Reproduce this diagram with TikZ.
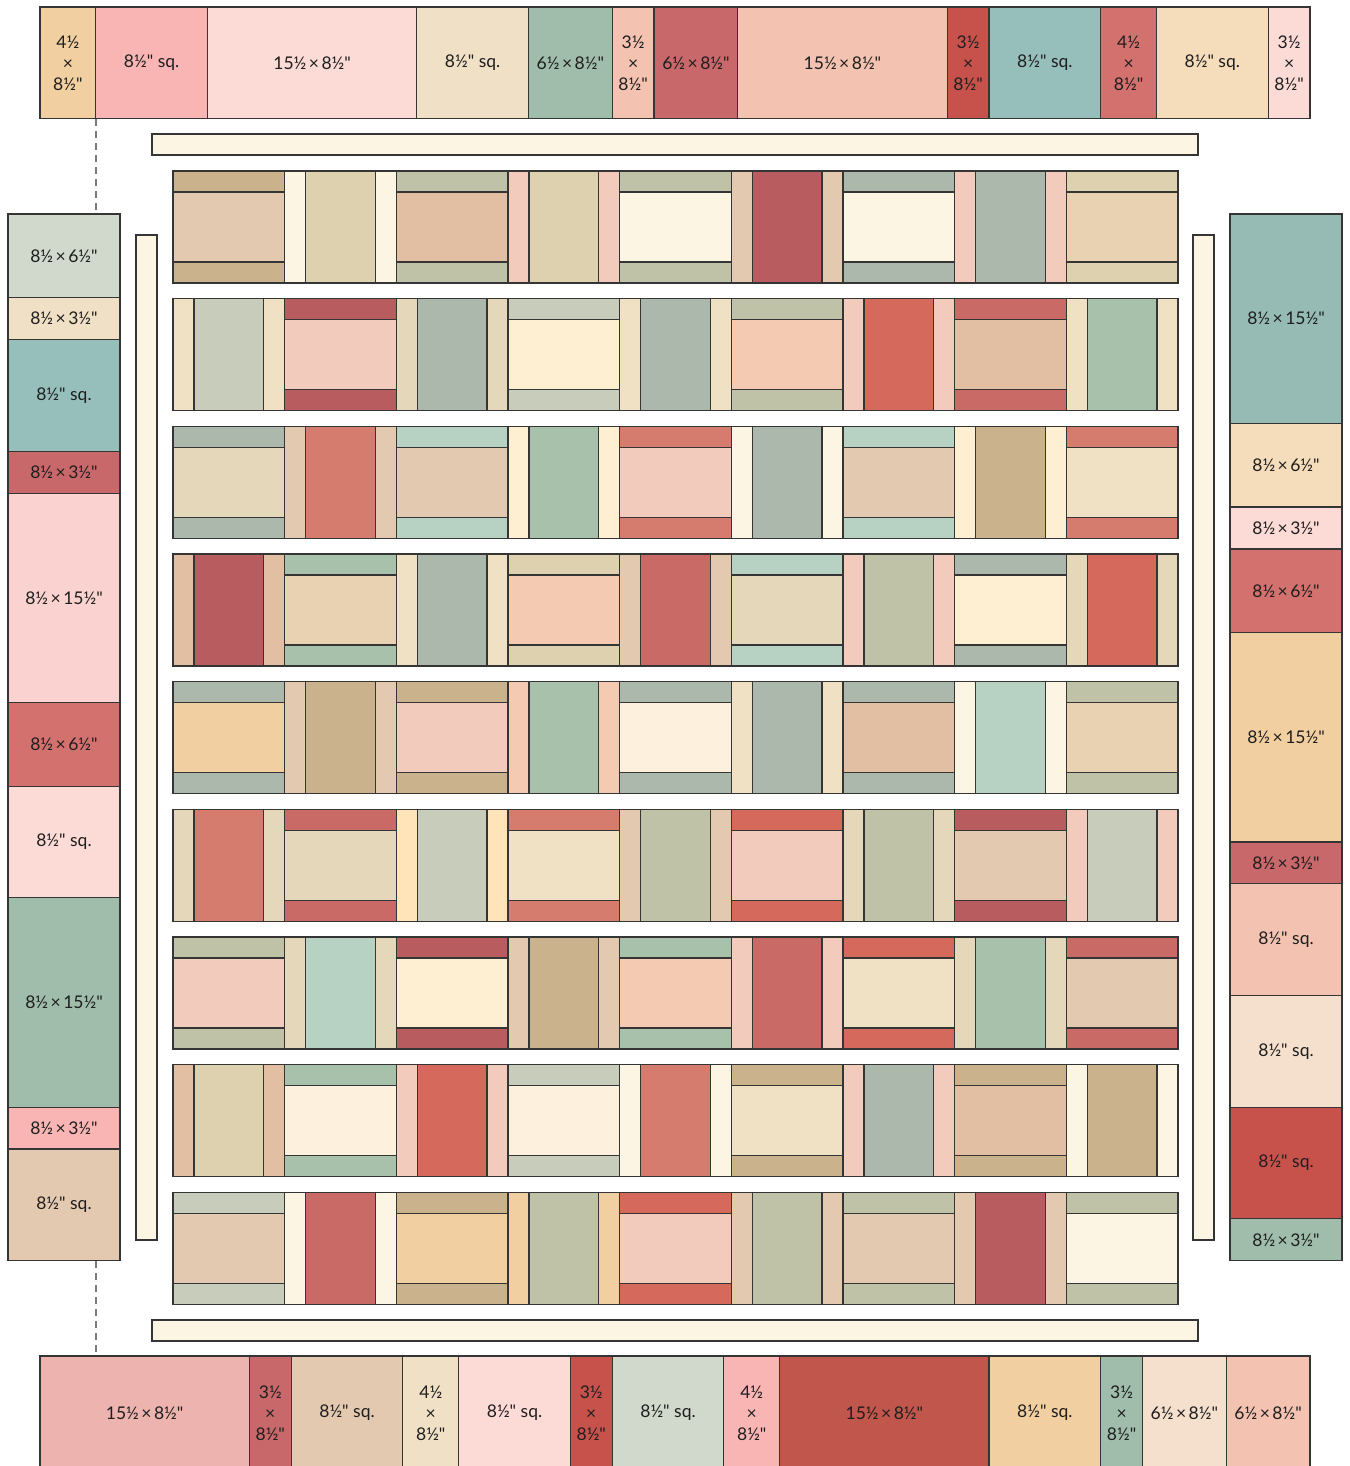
\documentclass[tikz,border=0pt]{standalone}
\usepackage{fontspec}
\setmainfont{Lato}[Ligatures=TeXOff]
% block palette
\definecolor{tan}{HTML}{C9B28C}
\definecolor{beige}{HTML}{E3C9B0}
\definecolor{khaki}{HTML}{DDD1AF}
\definecolor{cream}{HTML}{FDF5E4}
\definecolor{creamb}{HTML}{FDF0DC}
\definecolor{ivory}{HTML}{FEEFD3}
\definecolor{sage}{HTML}{BFC2A6}
\definecolor{gsage}{HTML}{ADB8AC}
\definecolor{mint}{HTML}{B7D2C2}
\definecolor{green}{HTML}{A8C1AA}
\definecolor{psage}{HTML}{C8CCBA}
\definecolor{peachl}{HTML}{F2CBBC}
\definecolor{peach}{HTML}{F4CAB3}
\definecolor{sandp}{HTML}{E2BFA3}
\definecolor{wheat}{HTML}{E8D2B1}
\definecolor{wheatl}{HTML}{E5D7B9}
\definecolor{linen}{HTML}{F0E0C4}
\definecolor{reddk}{HTML}{B85C60}
\definecolor{red}{HTML}{C96A66}
\definecolor{coral}{HTML}{D5695C}
\definecolor{salmon}{HTML}{D57C6E}
\definecolor{otan}{HTML}{F2CFA0}
\definecolor{yel}{HTML}{FEE4B8}
% border palette
\definecolor{bpink}{HTML}{F9B5B4}
\definecolor{blpink}{HTML}{FCDAD6}
\definecolor{blinen}{HTML}{F0E0C6}
\definecolor{bgreen}{HTML}{9FBDAA}
\definecolor{bpeach}{HTML}{F3C2B0}
\definecolor{bred}{HTML}{C9686A}
\definecolor{brick}{HTML}{C7524C}
\definecolor{brick2}{HTML}{C0564C}
\definecolor{bteal}{HTML}{96BFBC}
\definecolor{bteal2}{HTML}{96BBB4}
\definecolor{bred2}{HTML}{D3716E}
\definecolor{bwheat}{HTML}{F5DDBB}
\definecolor{bpsage}{HTML}{D1D8CC}
\definecolor{bpinkd}{HTML}{EDB3AE}
\definecolor{blpeach}{HTML}{F5E0CE}
\definecolor{bpinkm}{HTML}{FAD2CF}
\definecolor{linec}{HTML}{353535}
\definecolor{textc}{HTML}{1E1E1E}
\definecolor{dashc}{HTML}{7A7A7A}

\newcommand\X{\kern2.5pt×\kern2.5pt}

\newcommand\qH[4]{%
  \pgfmathsetmacro\bx{173+#1*111.667}%
  \pgfmathsetmacro\by{171+#2*127.67}%
  \filldraw[piece,fill=#3] (\bx,\by) rectangle ({\bx+111.667},{\by+112});
  \filldraw[piece,fill=#4] (\bx,{\by+21}) rectangle ({\bx+111.667},{\by+91});
}
\newcommand\qV[4]{%
  \pgfmathsetmacro\bx{173+#1*111.667}%
  \pgfmathsetmacro\by{171+#2*127.67}%
  \filldraw[piece,fill=#3] (\bx,\by) rectangle ({\bx+111.667},{\by+112});
  \filldraw[piece,fill=#4] ({\bx+21},\by) rectangle ({\bx+90.667},{\by+112});
}
\newcommand\qrow[3]{%
  \foreach \s/\c [count=\i from 0] in {#3} {
    \pgfmathtruncatemacro\p{mod(\i+#2,2)}
    \ifnum\p=0 \qH{\i}{#1}{\s}{\c}\else \qV{\i}{#1}{\s}{\c}\fi
  }
  \draw[piece] (173,{171+#1*127.67}) rectangle (1178,{283+#1*127.67});
}
% horizontal border piece: name, from inch, to inch, y0, y1, colour, label
\newcommand\hseg[7]{%
  \filldraw[piece,fill=#6] ({40+13.956*#2},#4) rectangle ({40+13.956*#3},#5);
  \node[lbl] (#1) at ({40+13.956*(#2+#3)/2},{(#4+#5)/2}) {#7};
}
% vertical border piece: name, x0, x1, from inch, to inch, colour, label
\newcommand\vseg[7]{%
  \filldraw[piece,fill=#6] (#2,{214+13.956*#4}) rectangle (#3,{214+13.956*#5});
  \node[slbl] (#1) at ({(#2+#3)/2},{214+13.956*(#4+#5)/2}) {#7};
}

\begin{document}
\begin{tikzpicture}[x=1pt,y=-1pt,
  piece/.style={draw=linec,line width=1.2pt},
  lbl/.style={font=\fontsize{17.5}{21}\selectfont,text=textc,align=center,inner sep=0pt},
  slbl/.style={font=\fontsize{17.5}{21}\selectfont,text=textc,align=center,inner sep=0pt},
  guide/.style={draw=dashc,line width=1.4pt,dash pattern=on 7pt off 5pt}]
\useasboundingbox (0,0) rectangle (1349,1466);

% dashed guides
\coordinate (g1) at (96,119);
\coordinate (g2) at (96,214);
\coordinate (g3) at (96,1261);
\coordinate (g4) at (96,1356);
\draw[guide] (g1) -- (g2);
\draw[guide] (g3) -- (g4);

% top border
\hseg{t1}{0}{4}{7}{118.7}{otan}{4½\\×\\8½"}
\hseg{t2}{4}{12}{7}{118.7}{bpink}{8½" sq.}
\hseg{t3}{12}{27}{7}{118.7}{blpink}{15½\X8½"}
\hseg{t4}{27}{35}{7}{118.7}{blinen}{8½" sq.}
\hseg{t5}{35}{41}{7}{118.7}{bgreen}{6½\X8½"}
\hseg{t6}{41}{44}{7}{118.7}{bpeach}{3½\\×\\8½"}
\hseg{t7}{44}{50}{7}{118.7}{bred}{6½\X8½"}
\hseg{t8}{50}{65}{7}{118.7}{bpeach}{15½\X8½"}
\hseg{t9}{65}{68}{7}{118.7}{brick}{3½\\×\\8½"}
\hseg{t10}{68}{76}{7}{118.7}{bteal}{8½" sq.}
\hseg{t11}{76}{80}{7}{118.7}{bred2}{4½\\×\\8½"}
\hseg{t12}{80}{88}{7}{118.7}{bwheat}{8½" sq.}
\hseg{t13}{88}{91}{7}{118.7}{blpink}{3½\\×\\8½"}

% bottom border
\hseg{b1}{0}{15}{1356}{1470}{bpinkd}{15½\X8½"}
\hseg{b2}{15}{18}{1356}{1470}{bred}{3½\\×\\8½"}
\hseg{b3}{18}{26}{1356}{1470}{beige}{8½" sq.}
\hseg{b4}{26}{30}{1356}{1470}{blinen}{4½\\×\\8½"}
\hseg{b5}{30}{38}{1356}{1470}{blpink}{8½" sq.}
\hseg{b6}{38}{41}{1356}{1470}{brick}{3½\\×\\8½"}
\hseg{b7}{41}{49}{1356}{1470}{bpsage}{8½" sq.}
\hseg{b8}{49}{53}{1356}{1470}{bpink}{4½\\×\\8½"}
\hseg{b9}{53}{68}{1356}{1470}{brick2}{15½\X8½"}
\hseg{b10}{68}{76}{1356}{1470}{otan}{8½" sq.}
\hseg{b11}{76}{79}{1356}{1470}{bgreen}{3½\\×\\8½"}
\hseg{b12}{79}{85}{1356}{1470}{blpeach}{6½\X8½"}
\hseg{b13}{85}{91}{1356}{1470}{bpeach}{6½\X8½"}

% left border
\vseg{l1}{8}{120}{0}{6}{bpsage}{8½\X6½"}
\vseg{l2}{8}{120}{6}{9}{blinen}{8½\X3½"}
\vseg{l3}{8}{120}{9}{17}{bteal}{8½" sq.}
\vseg{l4}{8}{120}{17}{20}{bred}{8½\X3½"}
\vseg{l5}{8}{120}{20}{35}{bpinkm}{8½\X15½"}
\vseg{l6}{8}{120}{35}{41}{bred2}{8½\X6½"}
\vseg{l7}{8}{120}{41}{49}{blpink}{8½" sq.}
\vseg{l8}{8}{120}{49}{64}{bgreen}{8½\X15½"}
\vseg{l9}{8}{120}{64}{67}{bpink}{8½\X3½"}
\vseg{l10}{8}{120}{67}{75}{beige}{8½" sq.}

% right border
\vseg{r1}{1230}{1342}{0}{15}{bteal2}{8½\X15½"}
\vseg{r2}{1230}{1342}{15}{21}{bwheat}{8½\X6½"}
\vseg{r3}{1230}{1342}{21}{24}{blpink}{8½\X3½"}
\vseg{r4}{1230}{1342}{24}{30}{bred2}{8½\X6½"}
\vseg{r5}{1230}{1342}{30}{45}{otan}{8½\X15½"}
\vseg{r6}{1230}{1342}{45}{48}{bred}{8½\X3½"}
\vseg{r7}{1230}{1342}{48}{56}{bpeach}{8½" sq.}
\vseg{r8}{1230}{1342}{56}{64}{blpeach}{8½" sq.}
\vseg{r9}{1230}{1342}{64}{72}{brick}{8½" sq.}
\vseg{r10}{1230}{1342}{72}{75}{bgreen}{8½\X3½"}

% cream sashing strips
\filldraw[piece,fill=cream] (152,134) rectangle (1198,155);
\filldraw[piece,fill=cream] (152,1320) rectangle (1198,1341);
\filldraw[piece,fill=cream] (136,235) rectangle (157,1240);
\filldraw[piece,fill=cream] (1193,235) rectangle (1214,1240);

% centre rows
\qrow{0}{0}{tan/beige,cream/khaki,sage/sandp,peachl/khaki,sage/cream,beige/reddk,gsage/cream,peachl/gsage,khaki/wheat}
\qrow{1}{1}{linen/psage,reddk/peachl,wheatl/gsage,psage/ivory,linen/gsage,sage/peach,peachl/coral,red/sandp,linen/green}
\qrow{2}{0}{gsage/wheatl,beige/salmon,mint/beige,ivory/green,salmon/peachl,cream/gsage,mint/beige,ivory/tan,salmon/linen}
\qrow{3}{1}{sandp/reddk,green/wheat,linen/gsage,khaki/peach,beige/red,mint/wheatl,peachl/sage,gsage/ivory,wheatl/coral}
\qrow{4}{0}{gsage/otan,beige/tan,tan/peachl,peach/green,gsage/creamb,linen/gsage,gsage/sandp,cream/mint,sage/wheat}
\qrow{5}{1}{wheatl/salmon,red/wheatl,yel/psage,salmon/linen,beige/sage,coral/peachl,wheatl/sage,reddk/beige,peachl/psage}
\qrow{6}{0}{sage/peachl,wheatl/mint,reddk/ivory,beige/tan,green/peach,peachl/red,coral/linen,wheatl/green,red/beige}
\qrow{7}{1}{sandp/khaki,green/creamb,peachl/coral,psage/creamb,cream/salmon,tan/linen,peachl/gsage,tan/sandp,cream/tan}
\qrow{8}{0}{psage/beige,cream/red,tan/otan,otan/sage,coral/peachl,beige/sage,sage/beige,beige/reddk,sage/cream}
\end{tikzpicture}
\end{document}
